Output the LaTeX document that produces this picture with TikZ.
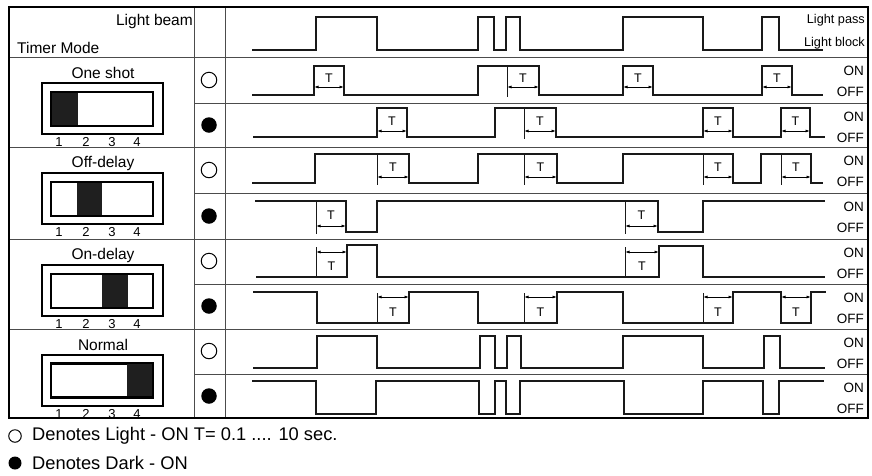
\documentclass[tikz,border=0pt]{standalone}
\usepackage{fontspec}
\setmainfont{Liberation Sans}
\usetikzlibrary{arrows.meta}
\newcommand\Tmark[4]{%
  \draw[tarrow] (#1,#3) -- (#2,#3);
  \node[tlab] at ({(#1+#2)/2},#4) {T};}
\newcommand\Tick[3]{\draw[tickln] (#1,#2) -- (#1,#3);}
\newcommand\Switch[3]{%
  \node[title] (#3t) at (103,#1+16) {#2};
  \draw[swbox] (42,#1+26) rectangle (163,#1+77);
  \draw[swbox] (51,#1+35) rectangle (153,#1+69);
  \node[num] (#3n1) at (59,#1+89) {1};
  \node[num] (#3n2) at (86,#1+89) {2};
  \node[num] (#3n3) at (112,#1+89) {3};
  \node[num] (#3n4) at (137,#1+89) {4};}
\newcommand\OnOff[2]{%
  \node[onoff] (#2on) at (864,#1+13.5) {ON};
  \node[onoff] (#2off) at (864,#1+35) {OFF};}
\begin{document}
\begin{tikzpicture}[x=1pt,y=-1pt,
  frame/.style={line width=1.8pt},
  gridln/.style={line width=0.9pt, black!70},
  sig/.style={line width=1.4pt, line join=miter, black!90},
  tickln/.style={line width=1pt, black!90},
  tarrow/.style={line width=0.8pt, {Latex[length=4.5pt,width=3pt]}-{Latex[length=4.5pt,width=3pt]}},
  tlab/.style={font=\fontsize{12.5}{12.5}\selectfont, inner sep=0pt},
  onoff/.style={font=\fontsize{13.5}{13.5}\selectfont, anchor=east, inner sep=0pt},
  title/.style={font=\fontsize{15.5}{16}\selectfont, inner sep=0pt},
  num/.style={font=\fontsize{13}{13}\selectfont, inner sep=0pt, anchor=base},
  swbox/.style={line width=1.2pt},
  swfill/.style={fill=black!88, draw=none},
  lightc/.style={circle, draw, line width=1pt, minimum size=15.5pt, inner sep=0pt},
  darkc/.style={circle, fill=black, minimum size=15.5pt, inner sep=0pt},
  legtext/.style={font=\fontsize{18.3}{19}\selectfont, anchor=west, inner sep=0pt}
]
\useasboundingbox (0,0) rectangle (872,475);
% grid
\foreach \y in {57,147,239,329} \draw[gridln] (9,\y) -- (868,\y);
\foreach \y in {103,193,284,374} \draw[gridln] (194,\y) -- (868,\y);
\draw[gridln] (194,7) -- (194,418);
\draw[gridln] (225,7) -- (225,418);
\draw[frame] (9,7) rectangle (868,418);
% header
\node[title, anchor=east] (lb) at (193,21) {Light beam};
\node[title, anchor=west] (tm) at (17,48) {Timer Mode};
\node[onoff, font=\fontsize{12.7}{13}\selectfont] (lp) at (865,20) {Light pass};
\node[onoff, font=\fontsize{12.7}{13}\selectfont] (lbk) at (865,43) {Light block};
% switches
\Switch{57}{One shot}{os}
\fill[swfill] (51,92) rectangle (77.5,126);
\Switch{147}{Off-delay}{of}
\fill[swfill] (76.5,182) rectangle (102,216);
\Switch{239}{On-delay}{ond}
\fill[swfill] (102,274) rectangle (127.5,308);
\Switch{329}{Normal}{nm}
\fill[swfill] (126.5,363) rectangle (153,397);
\draw[swbox] (51,92) rectangle (153,126);
\draw[swbox] (51,182) rectangle (153,216);
\draw[swbox] (51,274) rectangle (153,308);
\draw[swbox] (51,363) rectangle (153,397);
% circles
\node[lightc] (c1) at (209,80) {};
\node[darkc] (c2) at (209,125) {};
\node[lightc] (c3) at (209,170) {};
\node[darkc] (c4) at (209,216) {};
\node[lightc] (c5) at (209,261) {};
\node[darkc] (c6) at (209,306) {};
\node[lightc] (c7) at (209,351) {};
\node[darkc] (c8) at (209,396) {};
% ON/OFF labels
\OnOff{57}{r1}
\OnOff{103}{r2}
\OnOff{147}{r3}
\OnOff{193}{r4}
\OnOff{239}{r5}
\OnOff{284}{r6}
\OnOff{329}{r7}
\OnOff{374}{r8}
% light beam
\draw[sig] (252,50) -- (316,50) -- (316,17) -- (377,17) -- (377,50) -- (478,50) -- (478,17) -- (494,17) -- (494,50) -- (506,50) -- (506,17) -- (520,17) -- (520,50) -- (623,50) -- (623,17) -- (703,17) -- (703,50) -- (762,50) -- (762,17) -- (779,17) -- (779,50) -- (823,50);
% row 1 one shot light
\draw[sig] (252,95) -- (314,95) -- (314,66) -- (344,66) -- (344,95) -- (478,95) -- (478,66) -- (539,66) -- (539,95) -- (623,95) -- (623,66) -- (653,66) -- (653,95) -- (762,95) -- (762,66) -- (792,66) -- (792,95) -- (823,95);
\Tick{507}{66}{97}
\Tmark{314}{344}{87}{78}
\Tmark{507}{539}{87}{78}
\Tmark{623}{653}{87}{78}
\Tmark{762}{792}{87}{78}
% row 2 one shot dark
\draw[sig] (253,137) -- (377,137) -- (377,108) -- (407,108) -- (407,137) -- (495,137) -- (495,108) -- (556,108) -- (556,137) -- (703,137) -- (703,108) -- (733,108) -- (733,137) -- (781,137) -- (781,108) -- (810,108) -- (810,137) -- (825,137);
\Tick{524}{108}{139}
\Tmark{377}{407}{131}{121}
\Tmark{524}{556}{131}{121}
\Tmark{703}{733}{131}{121}
\Tmark{781}{810}{131}{121}
% row 3 off-delay light
\draw[sig] (252,183) -- (315,183) -- (315,154) -- (409,154) -- (409,183) -- (478,183) -- (478,154) -- (557,154) -- (557,183) -- (623,183) -- (623,154) -- (733,154) -- (733,183) -- (761,183) -- (761,154) -- (811,154) -- (811,183) -- (823,183);
\Tick{377}{154}{185}
\Tick{524}{154}{185}
\Tick{703}{154}{185}
\Tick{781}{154}{185}
\Tmark{377}{409}{177}{167}
\Tmark{524}{557}{177}{167}
\Tmark{703}{733}{177}{167}
\Tmark{781}{811}{177}{167}
% row 4 off-delay dark
\draw[sig] (255,201) -- (346,201) -- (346,232) -- (377,232) -- (377,201) -- (658,201) -- (658,232) -- (703,232) -- (703,201) -- (825,201);
\Tick{316}{201}{234}
\Tick{625}{201}{234}
\Tmark{316}{346}{226}{215}
\Tmark{625}{658}{226}{215}
% row 5 on-delay light
\draw[sig] (256,277) -- (347,277) -- (347,245) -- (377,245) -- (377,277) -- (659,277) -- (659,246) -- (703,246) -- (703,277) -- (825,277);
\Tick{316}{247}{277}
\Tick{625}{247}{277}
\Tmark{316}{347}{252}{266}
\Tmark{625}{659}{252}{266}
% row 6 on-delay dark
\draw[sig] (253,292) -- (317,292) -- (317,323) -- (409,323) -- (409,292) -- (478,292) -- (478,323) -- (557,323) -- (557,292) -- (623,292) -- (623,323) -- (733,323) -- (733,292) -- (781,292) -- (781,323) -- (811,323) -- (811,292) -- (826,292);
\Tick{377}{293}{323}
\Tick{524}{293}{323}
\Tick{703}{293}{323}
\Tmark{377}{409}{297}{312}
\Tmark{524}{557}{297}{312}
\Tmark{703}{733}{297}{312}
\Tmark{781}{811}{297}{312}
% row 7 normal light
\draw[sig] (253,368) -- (317,368) -- (317,336) -- (377,336) -- (377,368) -- (480,368) -- (480,336) -- (495,336) -- (495,368) -- (507,368) -- (507,336) -- (521,336) -- (521,368) -- (623,368) -- (623,336) -- (703,336) -- (703,368) -- (764,368) -- (764,336) -- (780,336) -- (780,368) -- (825,368);
% row 8 normal dark
\draw[sig] (252,381) -- (316,381) -- (316,414) -- (376,414) -- (376,381) -- (479,381) -- (479,414) -- (495,414) -- (495,381) -- (506,381) -- (506,414) -- (520,414) -- (520,381) -- (624,381) -- (624,414) -- (703,414) -- (703,381) -- (763,381) -- (763,414) -- (779,414) -- (779,381) -- (824,381);
% legend
\node[lightc, minimum size=12.5pt] (lc) at (15,436) {};
\node[legtext] (lt) at (32,436) {Denotes Light - ON T= 0.1 .... 10 sec.};
\node[darkc, minimum size=13pt] (dc) at (15,463) {};
\node[legtext] (dt) at (32,463) {Denotes Dark - ON};
\end{tikzpicture}
\end{document}
